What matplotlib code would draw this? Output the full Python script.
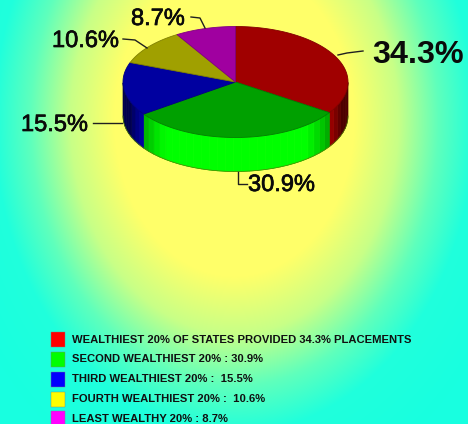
import numpy as np
import matplotlib
matplotlib.use("Agg")
import matplotlib.pyplot as plt
import matplotlib.patheffects as pe
from matplotlib.collections import PolyCollection

shares = [34.3, 30.9, 15.5, 10.6, 8.7]
pie_labels = ["34.3%", "30.9%", "15.5%", "10.6%", "8.7%"]
legend_labels = [
    "WEALTHIEST 20% OF STATES PROVIDED 34.3% PLACEMENTS",
    "SECOND WEALTHIEST 20% : 30.9%",
    "THIRD WEALTHIEST 20% :  15.5%",
    "FOURTH WEALTHIEST 20% :  10.6%",
    "LEAST WEALTHY 20% : 8.7%",
]
top_colors = np.array([(160,0,0), (0,160,0), (0,0,160), (160,160,0), (160,0,160)]) / 255
legend_colors = ["#ff0000", "#00ff00", "#0000ff", "#ffff00", "#ff00ff"]

W, H = 468, 424
CX, CY, RX, RY, DEPTH = 235.5, 82, 112.5, 55.5, 34

fig = plt.figure(figsize=(W/100, H/100), dpi=100)
ax = fig.add_axes([0, 0, 1, 1])
ax.set_xlim(0, W); ax.set_ylim(H, 0); ax.axis("off")

# radial background
yy, xx = np.mgrid[0:H, 0:W]
r = np.hypot(xx-234, (yy-120)/1.3)
stops = [0, 120, 164, 204, 240, 300]
rgb = np.dstack([
    np.interp(r, stops, [255, 255, 200, 95, 32, 24]),
    np.full_like(r, 255.0),
    np.interp(r, stops, [105, 105, 135, 188, 220, 224]),
]) / 255
ax.imshow(rgb, extent=(0, W, H, 0), aspect="auto", zorder=0, interpolation="bilinear")

def pt(a, dy=0):
    return CX + RX*np.cos(a), CY - RY*np.sin(a) + dy

edges = np.deg2rad(90 - 3.6*np.cumsum([0] + shares))

# side wall
polys, cols = [], []
for i, base in enumerate(top_colors):
    a0, a1 = edges[i], edges[i+1]
    n = max(2, int(abs(a1-a0)/np.deg2rad(4)))
    grid = np.linspace(a0, a1, n+1)
    for s, e in zip(grid[:-1], grid[1:]):
        m = (s+e)/2
        if np.sin(m) >= 0:
            continue
        shade = np.clip(1.6*(-np.sin(m)) - 0.25, 0.3, 1)
        polys.append([pt(s), pt(e), pt(e, DEPTH), pt(s, DEPTH)])
        cols.append(base/base.max()*shade)
ax.add_collection(PolyCollection(polys, facecolors=cols, edgecolors=cols, linewidths=.5, zorder=2))

# outline under wall
arc = np.linspace(np.pi, 2*np.pi, 100)
ax.plot(*pt(arc, DEPTH), color="#508000", lw=.5, zorder=3)

# top face
for i, c in enumerate(top_colors):
    g = np.linspace(edges[i], edges[i+1], 80)
    x, y = pt(g)
    ax.fill(np.r_[CX, x], np.r_[CY, y], facecolor=c, edgecolor=c*0.8, lw=.6, zorder=4)

# labels and leaders
font = "Liberation Sans"
lines = [
    ([338, 347, 363], [55, 53, 51]),
    ([238, 238, 247], [172, 184, 184]),
    ([122, 93], [123, 123]),
    ([147, 135, 123], [48, 40, 39]),
    ([205, 200, 191], [28, 18, 17]),
]
for lx, ly in lines:
    ax.plot(lx, ly, color="#202020", lw=1, zorder=5)
places = [(372, 55, 23.3), (248, 185, 17), (21, 125, 17), (52, 41, 17), (131, 19, 17)]
for s, (x, y, fs) in zip(pie_labels, places):
    t = ax.text(x, y, s, fontsize=fs, family=font, ha="left", va="center", color="#0a0a0a",
                fontweight="bold" if fs > 20 else "normal", zorder=6)
    if fs < 20:
        t.set_path_effects([pe.withStroke(linewidth=0.5, foreground="#0a0a0a")])

# legend
rows = [339.5, 359, 379, 399, 418]
for y, c, s in zip(rows, legend_colors, legend_labels):
    ax.add_patch(plt.Rectangle((51, y-7.5), 14, 15, facecolor=c, edgecolor="#808080", lw=.3, zorder=6))
    ax.text(72, y+0.5, s, fontsize=8.1, family=font, fontweight="bold", ha="left", va="center",
            color="#101010", zorder=6)

fig.savefig("out.png", dpi=100)
